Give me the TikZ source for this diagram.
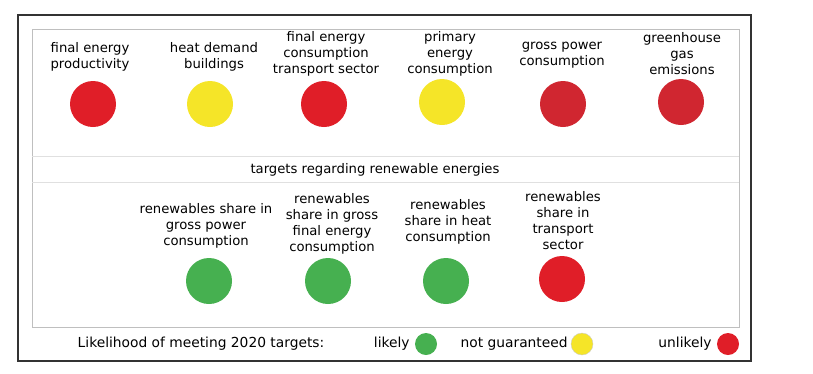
\documentclass[tikz,border=0pt]{standalone}
\usepackage{fontspec}
\setmainfont{DejaVu Sans}
\usetikzlibrary{math, positioning}
\definecolor{myred}{RGB}{224,30,40}
\definecolor{mydarkred}{RGB}{208,38,48}
\definecolor{myyellow}{RGB}{245,229,40}
\definecolor{mygreen}{RGB}{70,176,80}

\begin{document}
\begin{tikzpicture}[x=1pt,y=-1pt,
  lbl/.style={align=center,inner sep=0pt,font=\fontsize{13.2}{16}\selectfont},
  keylbl/.style={lbl,font=\fontsize{13.8}{16}\selectfont},
  dot/.style={circle,inner sep=0pt,minimum size=46pt},
  keydot/.style={circle,inner sep=0pt,minimum size=22pt}]
\tikzmath{
\yt=104;
\yb=281;
\yk=344;
}
\useasboundingbox (0,0) rectangle (813,373);

%%%%%%%%%% frames
\draw[line width=1.2pt,black!80] (18,15) rectangle (751,361);
\draw[line width=0.8pt,black!25] (32,29) rectangle (739,327);
\draw[line width=0.6pt,black!12] (32,156) -- (739,156);
\draw[line width=0.6pt,black!12] (32,182) -- (739,182);

%%%%%%%%%% top row
\node[lbl] (tfep) at (90,57) {final energy\\productivity};
\node[lbl] (thdb) at (214,57) {heat demand\\buildings};
\node[lbl] (tfet) at (326,54) {final energy\\consumption\\transport sector};
\node[lbl] (tpec) at (450,54) {primary\\energy\\consumption};
\node[lbl] (tgpc) at (562,55) {gross power\\consumption};
\node[lbl] (tghg) at (682,54) {greenhouse\\gas\\emissions};

\node[dot,fill=myred] (dfep) at (93,\yt) {};
\node[dot,fill=myyellow] (dhdb) at (210,\yt) {};
\node[dot,fill=myred] (dfet) at (324,\yt) {};
\node[dot,fill=myyellow] (dpec) at (442,102) {};
\node[dot,fill=mydarkred] (dgpc) at (563,\yt) {};
\node[dot,fill=mydarkred] (dghg) at (681,102) {};

\node[lbl] (tren) at (375,170) {targets regarding renewable energies};

%%%%%%%%%% bottom row
\node[lbl] (trgp) at (206,226) {renewables share in\\gross power\\consumption};
\node[lbl] (trgf) at (332,224) {renewables\\share in gross\\final energy\\consumption};
\node[lbl] (trhc) at (448,222) {renewables\\share in heat\\consumption};
\node[lbl] (trts) at (563,221) {renewables\\share in\\transport\\sector};

\node[dot,fill=mygreen] (drgp) at (209,\yb) {};
\node[dot,fill=mygreen] (drgf) at (328,\yb) {};
\node[dot,fill=mygreen] (drhc) at (446,\yb) {};
\node[dot,fill=myred] (drts) at (562,279) {};

%%%%%%%%%% key
\node[keylbl] (key) at (201,\yk) {Likelihood of meeting 2020 targets:};
\node[keydot,fill=mygreen] (klikely) at (426,\yk) {};
\node[keydot,fill=myyellow,draw=black!20] (knotg) at (582,\yk) {};
\node[keydot,fill=myred] (kunlikely) at (728,\yk) {};
\node[keylbl,left=5pt of klikely] {likely};
\node[keylbl,left=3pt of knotg] {not guaranteed};
\node[keylbl,left=5pt of kunlikely] {unlikely};
\end{tikzpicture}
\end{document}
